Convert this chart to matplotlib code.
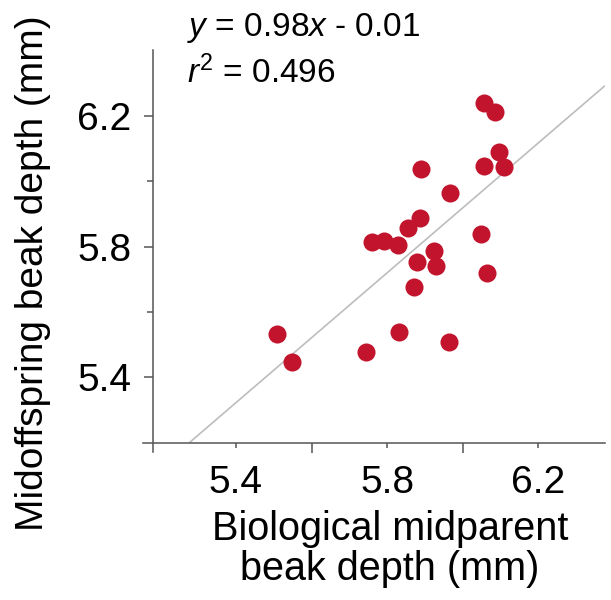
#!/usr/bin/env python
"""
Midoffspring vs. biological midparent beak depth scatter.
"""
import matplotlib
matplotlib.use("Agg")
import matplotlib.pyplot as plt
from matplotlib.ticker import MultipleLocator
import numpy as np

# Data (mm)
midparent_depth = [6.056, 6.085, 6.097, 6.056, 6.109, 5.889, 5.966, 5.887,
                   5.856, 5.761, 5.792, 5.829, 6.047, 5.925, 5.878, 5.929,
                   6.063, 5.871, 5.508, 5.547, 5.744, 5.832, 5.964]
midoffspring_depth = [6.241, 6.213, 6.091, 6.048, 6.043, 6.038, 5.963, 5.887,
                      5.856, 5.815, 5.818, 5.805, 5.839, 5.785, 5.752, 5.739,
                      5.720, 5.677, 5.532, 5.446, 5.478, 5.537, 5.509]

fit_label = r"$y$ = 0.98$x$ - 0.01"
r2_label = r"$r^{\mathrm{2}}$ = 0.496"
x_ticks = [5.4, 5.8, 6.2]
y_ticks = [5.4, 5.8, 6.2]

plt.rcParams["font.family"] = ["Liberation Sans", "DejaVu Sans"]
plt.rcParams["mathtext.fontset"] = "custom"
plt.rcParams["mathtext.rm"] = "Liberation Sans"
plt.rcParams["mathtext.it"] = "Liberation Sans:italic"

DOT = "#c3142d"
AXC = "#555555"


def main():
    fig = plt.figure(figsize=(6.11, 6.0), dpi=100)
    ax = fig.add_axes([0.234, 0.2467, 0.756, 0.67])

    x = np.array(midparent_depth)
    y = np.array(midoffspring_depth)

    ax.set_xlim(5.154, 6.376)
    ax.set_ylim(5.171, 6.402)

    # least squares line, drawn from the x-axis up to the right edge
    slope, icept = np.polyfit(x, y, 1)
    x0 = (5.2 - icept) / slope
    lx = np.array([x0, 6.376])
    ax.plot(lx, slope * lx + icept, color="#bdbdbd", lw=1.2, zorder=1,
            solid_capstyle="butt")

    ax.scatter(x, y, s=169, color=DOT, linewidths=0, zorder=2)

    for side in ("top", "right"):
        ax.spines[side].set_visible(False)
    ax.spines["left"].set_position(("data", 5.18))
    ax.spines["bottom"].set_position(("data", 5.2))
    for side in ("left", "bottom"):
        ax.spines[side].set_color(AXC)
        ax.spines[side].set_linewidth(1.1)

    ax.set_xticks(x_ticks)
    ax.set_yticks(y_ticks)
    ax.xaxis.set_minor_locator(MultipleLocator(0.4))
    ax.yaxis.set_minor_locator(MultipleLocator(0.4))
    ax.set_xticks([5.6, 6.0], minor=True)
    ax.set_yticks([5.6, 6.0], minor=True)

    ax.tick_params(axis="x", which="major", length=3.6, width=1.1,
                   color=AXC, labelsize=28, pad=12.5)
    ax.tick_params(axis="x", which="minor", length=7, width=1.1, color=AXC)
    ax.tick_params(axis="y", which="major", length=6.5, width=1.1,
                   color=AXC, labelsize=28, pad=9)
    ax.tick_params(axis="y", which="minor", length=4.3, width=1.1, color=AXC)

    # axis titles
    fig.text(390 / 611, 1 - 540 / 600, "Biological midparent",
             ha="center", va="baseline", fontsize=28.5)
    fig.text(390 / 611, 1 - 580 / 600, "beak depth (mm)",
             ha="center", va="baseline", fontsize=28.5)
    fig.text(33 / 611, 1 - 273 / 600, "Midoffspring beak depth (mm)",
             ha="center", va="center", rotation=90, fontsize=28)

    # regression annotation
    fig.text(187 / 611, 1 - 36 / 600, fit_label, ha="left", va="baseline",
             fontsize=24)
    fig.text(187 / 611, 1 - 83 / 600, r2_label, ha="left", va="baseline",
             fontsize=24)

    fig.savefig("out.png", dpi=100)
    plt.close(fig)


if __name__ == "__main__":
    main()
